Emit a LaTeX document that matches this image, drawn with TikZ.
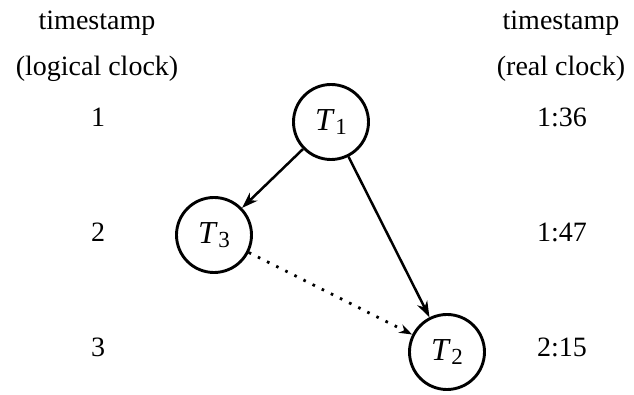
\documentclass[tikz,border=0pt]{standalone}
\usepackage{fontspec}
\setmainfont{Liberation Serif}
\usetikzlibrary{arrows.meta}
\newcommand\Tlab[1]{\textit{T}\kern0.02em\raisebox{-0.32ex}{\fontsize{11.5}{11.5}\selectfont #1}}
\begin{document}
\begin{tikzpicture}[x=0.5pt,y=-0.5pt,
  txt/.style={font=\fontsize{14}{16}\selectfont, anchor=base, inner sep=0pt},
  tnode/.style={circle, draw, line width=1.45pt, minimum size=37.5pt, inner sep=0pt,
    font=\fontsize{16}{18}\selectfont},
  solidarr/.style={line width=1.25pt, -{Stealth[length=8pt,width=5.5pt,inset=2.5pt]}},
  dotarr/.style={line width=1.4pt, dash pattern=on 1.3pt off 3.8pt,
    -{Stealth[open,length=6.5pt,width=4.5pt,inset=2pt,line width=1.1pt]}}]
\useasboundingbox (0,0) rectangle (634,395);
% left column
\node[txt] (lh1) at (97,30) {timestamp};
\node[txt] (lh2) at (97,76) {(logical clock)};
\node[txt] (l1) at (98,127) {1};
\node[txt] (l2) at (98,242) {2};
\node[txt] (l3) at (98,357) {3};
% right column
\node[txt] (rh1) at (561,30) {timestamp};
\node[txt] (rh2) at (561,76) {(real clock)};
\node[txt] (r1) at (562,127) {1:36};
\node[txt] (r2) at (562,242) {1:47};
\node[txt] (r3) at (562,357) {2:15};
% transactions
\node[tnode] (T1) at (331,122) {\Tlab{1}};
\node[tnode] (T3) at (214,235) {\Tlab{3}};
\node[tnode] (T2) at (447,352) {\Tlab{2}};
% connectors
\draw[solidarr] (T1) -- (T3);
\draw[solidarr] (T1) -- (T2);
\draw[dotarr] (T3) -- (T2);
\end{tikzpicture}
\end{document}
